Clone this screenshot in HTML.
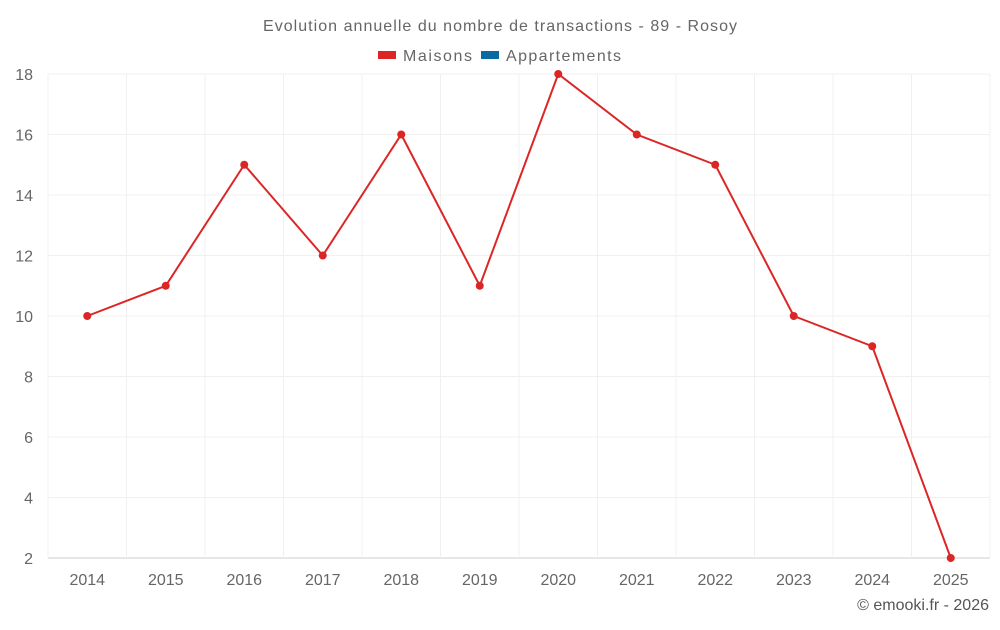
<!DOCTYPE html>
<html><head><meta charset="utf-8"><style>
body{margin:0;background:#fff;font-family:"Liberation Sans",sans-serif}
</style></head><body>
<svg width="1000" height="625" id="c">
<text x="500" y="31" text-anchor="middle" font-size="16" fill="#666" textLength="474">Evolution annuelle du nombre de transactions - 89 - Rosoy</text>
<g>
<rect x="378" y="51" width="18" height="8" fill="#dc2626"/>
<text x="403" y="61" font-size="16" fill="#666" textLength="69">Maisons</text>
<rect x="481" y="51" width="18" height="8" fill="#0b6aa2"/>
<text x="506" y="61" font-size="16" fill="#666" textLength="115">Appartements</text>
</g>
<g id="grid"></g><g id="axes"></g><g id="series"></g>
<text x="989" y="610" text-anchor="end" font-size="16" fill="#555">© emooki.fr - 2026</text>
</svg>
<script>
const categories=["2014","2015","2016","2017","2018","2019","2020","2021","2022","2023","2024","2025"];
const maisons=[10,11,15,12,16,11,18,16,15,10,9,2];
const yTicks=[2,4,6,8,10,12,14,16,18];
const L=48,R=990,T=74,B=558,yMin=2,yMax=18;
const bw=(R-L)/categories.length;
const x=i=>L+bw*(i+0.5);
const y=v=>B-(v-yMin)/(yMax-yMin)*(B-T);
const ns="http://www.w3.org/2000/svg";
function mk(p,t,a){const e=document.createElementNS(ns,t);for(const k in a)e.setAttribute(k,a[k]);p.appendChild(e);return e;}
const g=document.getElementById('grid'),ax=document.getElementById('axes'),s=document.getElementById('series');
yTicks.forEach(v=>{
const l=mk(g,'line',{x1:L,x2:R,y1:y(v),y2:y(v),stroke:v===yMin?'#ccc':'#f0f0f0'});


const t=mk(ax,'text',{x:33,y:y(v)+6,'text-anchor':'end','font-size':16,fill:'#666'});t.textContent=v;


});
for(let i=0;i<=categories.length;i++){
const l=mk(g,'line',{x1:L+bw*i,x2:L+bw*i,y1:T,y2:B,stroke:'#f0f0f0'});


}
categories.forEach((c,i)=>{
const t=mk(ax,'text',{x:x(i),y:585,'text-anchor':'middle','font-size':16,fill:'#666'});t.textContent=c;


});
const p=mk(s,'polyline',{points:maisons.map((v,i)=>x(i)+','+y(v)).join(' '),fill:'none',stroke:'#dc2626','stroke-width':2});


maisons.forEach((v,i)=>{
const c=mk(s,'circle',{cx:x(i),cy:y(v),r:4,fill:'#dc2626'});


});
</script>
</body></html>
